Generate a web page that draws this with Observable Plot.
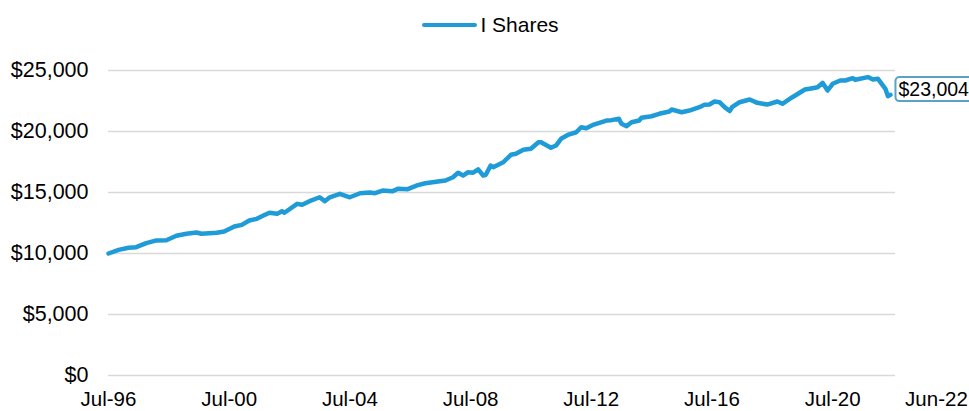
<!DOCTYPE html>
<html><head><meta charset="utf-8">
<script src="https://cdn.jsdelivr.net/npm/d3@7"></script>
<script src="https://cdn.jsdelivr.net/npm/@observablehq/plot@0.6"></script>
<style>
body{margin:0;background:#fff;font-family:"Liberation Sans",Arial,sans-serif;}
#legend{height:45px;display:flex;align-items:center;justify-content:center;padding-left:12px;padding-top:4px;box-sizing:border-box;font-size:21px;color:#000;}
#legend .sw{display:inline-block;width:55px;height:4px;background:#1f9bd7;border-radius:2px;margin-right:3px;}
#chart svg{display:block;}
</style></head><body>
<div id="legend"><span class="sw"></span><span id="legtext"></span></div>
<div id="chart"></div>
<script>
const seriesName = "I Shares";
const months = ["1996-07","1996-11","1997-03","1997-06","1997-10","1998-02","1998-06","1998-10","1999-02","1999-06","1999-08","2000-02","2000-05","2000-09","2000-12","2001-03","2001-06","2001-09","2001-11","2002-02","2002-04","2002-05","2002-10","2002-12","2003-03","2003-07","2003-09","2003-11","2004-03","2004-07","2004-11","2005-03","2005-05","2005-08","2005-12","2006-02","2006-06","2006-10","2007-01","2007-06","2007-09","2007-12","2008-02","2008-04","2008-06","2008-08","2008-10","2008-12","2009-01","2009-03","2009-04","2009-08","2009-11","2010-01","2010-04","2010-07","2010-10","2010-11","2011-03","2011-05","2011-07","2011-10","2012-01","2012-03","2012-05","2012-08","2013-01","2013-03","2013-06","2013-07","2013-09","2013-11","2014-02","2014-03","2014-07","2014-10","2015-02","2015-03","2015-07","2015-10","2016-02","2016-04","2016-06","2016-08","2016-10","2016-12","2017-02","2017-03","2017-06","2017-10","2018-01","2018-05","2018-09","2018-11","2019-03","2019-08","2019-11","2020-01","2020-03","2020-05","2020-07","2020-10","2020-12","2021-03","2021-04","2021-09","2021-11","2022-01","2022-04","2022-05","2022-06"];
const values = [10000,10300,10470,10520,10850,11070,11090,11450,11620,11720,11620,11700,11800,12210,12350,12700,12840,13150,13340,13250,13470,13340,14070,13990,14290,14610,14290,14610,14890,14610,14940,15000,14940,15160,15110,15300,15270,15600,15760,15900,15980,16250,16620,16390,16660,16620,16890,16390,16450,17210,17070,17480,18090,18170,18500,18580,19120,19120,18670,18850,19400,19750,19940,20350,20270,20570,20900,20930,21040,20630,20440,20760,20900,21120,21250,21450,21640,21800,21580,21720,21990,22190,22210,22460,22400,22000,21680,21990,22400,22620,22350,22210,22460,22270,22810,23440,23550,23630,23990,23360,23910,24180,24180,24370,24240,24460,24260,24320,23500,22900,23004];
const xTickMonths = ["1996-07","2000-07","2004-07","2008-07","2012-07","2016-07","2020-07"];
const lastTickMonth = "2022-06";
const lastTickLabel = "Jun-22";
const yTicks = [0,5000,10000,15000,20000,25000];
const xDomain = ["1996-07","2022-08"];

document.getElementById("legtext").textContent = seriesName;
const parse = d3.utcParse("%Y-%m");
const data = months.map((m,i)=>({date: parse(m), value: values[i]}));
const last = data[data.length-1];
const money = d3.format("$,");
const lineColor = "#1f9bd7";

const plot = Plot.plot({
  width: 969, height: 366,
  marginLeft: 108, marginRight: 74, marginTop: 25, marginBottom: 36,
  style: {fontFamily: "Liberation Sans, Arial, sans-serif", fontSize: "20px", color: "#000", background: "#fff"},
  x: {type: "utc", domain: xDomain.map(parse)},
  y: {domain: [0, 25000]},
  marks: [
    Plot.ruleY(yTicks, {stroke: "#d9d9d9", strokeWidth: 1.5}),
    Plot.axisY(yTicks, {tickSize: 0, tickPadding: 20, tickFormat: money, label: null, fontSize: 21.5}),
    Plot.axisX(xTickMonths.map(parse), {tickSize: 0, tickPadding: 16, tickFormat: d3.utcFormat("%b-%y"), label: null, fontSize: 20.5}),
    Plot.text([lastTickMonth], {x: d => parse(d), y: () => 0, text: () => lastTickLabel, lineAnchor: "top", dy: 16, dx: 46, fontSize: 20.5}),
    Plot.lineY(data, {x: "date", y: "value", stroke: lineColor, strokeWidth: 4.5, strokeLinejoin: "round", strokeLinecap: "round"}),
    Plot.text([last], {x: "date", y: "value", text: d => money(d.value), textAnchor: "start", dx: 8, dy: -5, fontSize: 19.5})
  ]
});
document.getElementById("chart").appendChild(plot);
const endText = money(last.value);
d3.select(plot).selectAll("text").filter(function(){ return this.textContent === endText; }).each(function(){
  const b = this.getBBox();
  const r = document.createElementNS("http://www.w3.org/2000/svg", "rect");
  r.setAttribute("x", b.x - 3); r.setAttribute("y", b.y - 1);
  r.setAttribute("width", b.width + 8); r.setAttribute("height", b.height + 2);
  r.setAttribute("rx", 4); r.setAttribute("fill", "#fff");
  r.setAttribute("stroke", "#5aa3c8"); r.setAttribute("stroke-width", 2);
  if (this.getAttribute("transform")) r.setAttribute("transform", this.getAttribute("transform"));
  this.parentNode.insertBefore(r, this);
});
</script>
</body></html>
